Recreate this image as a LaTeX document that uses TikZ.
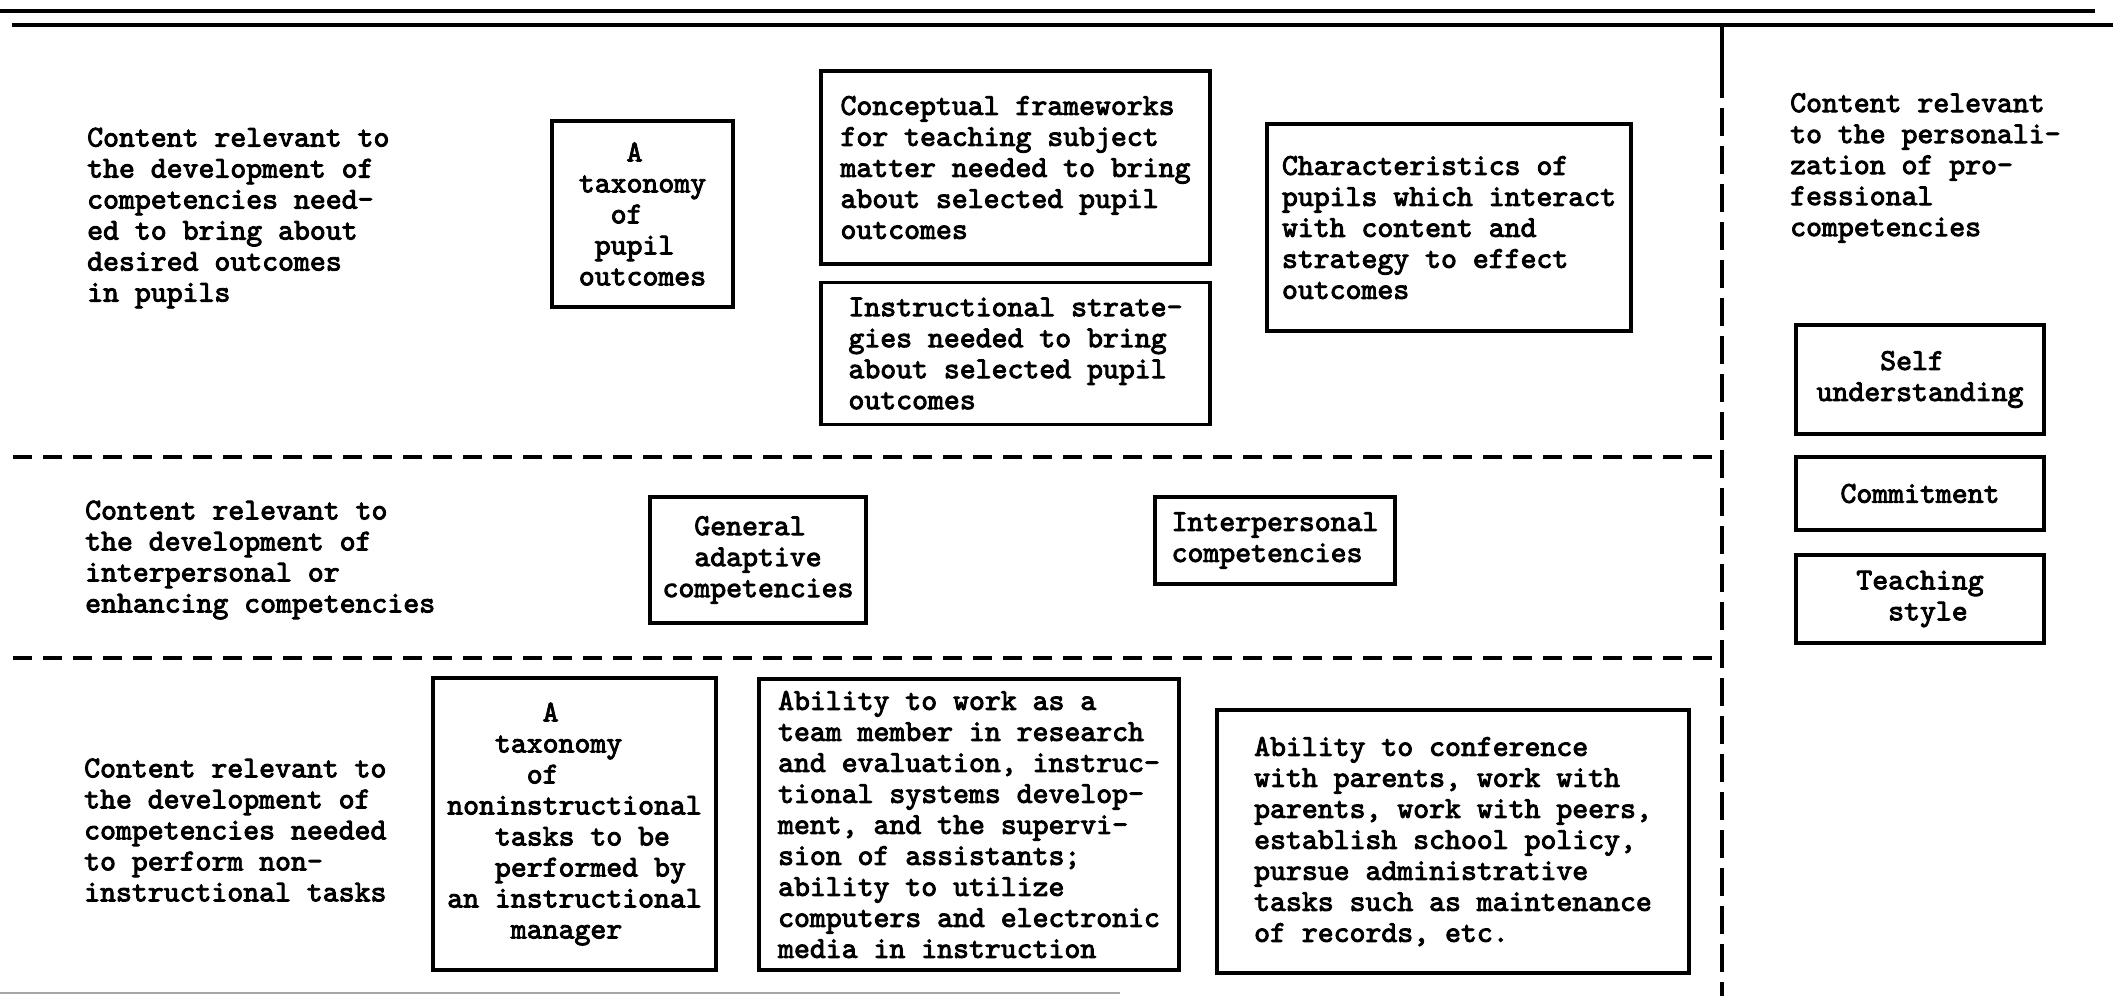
\documentclass[tikz,border=0pt]{standalone}
\usepackage{fontspec}
\newfontfamily\typewriterbold{lmmono10-regular.otf}[FakeBold=3]
\begin{document}
\begin{tikzpicture}[x=1pt,y=-1pt,
  every node/.style={font=\fontsize{30.3}{31}\selectfont\typewriterbold},
  box/.style={draw, line width=3.5pt, align=left, inner sep=0pt},
  lbl/.style={anchor=west, align=left, inner sep=0pt},
  rulebar/.style={line width=4pt},
  divider/.style={line width=3.5pt, dash pattern=on 19pt off 11pt},
  vdivider/.style={line width=3.5pt, dash pattern=on 28pt off 10pt},
  scanline/.style={line width=2pt, black!35}]
\useasboundingbox[fill=white] (0,0) rectangle (2113,996);

% rules and dividers
\coordinate (r1a) at (0,11);   \coordinate (r1b) at (2095,11);
\coordinate (r2a) at (12,25);  \coordinate (r2b) at (2113,25);
\coordinate (va) at (1722,25); \coordinate (vm) at (1722,70); \coordinate (vb) at (1722,996);
\coordinate (h1a) at (13,457); \coordinate (h1b) at (1722,457);
\coordinate (h2a) at (13,658); \coordinate (h2b) at (1722,658);
\coordinate (sa) at (0,993);   \coordinate (sb) at (1120,993);
\draw[rulebar] (r1a) -- (r1b);
\draw[rulebar] (r2a) -- (r2b);
\draw[line width=3.5pt] (va) -- (vm);
\draw[vdivider] (vm) -- (vb);
\draw[divider] (h1a) -- (h1b);
\draw[divider] (h2a) -- (h2b);
\draw[scanline] (sa) -- (sb);

% row labels
\node[lbl] (row1) at (87,218) {Content relevant to\\the development of\\competencies need-\\ed to bring about\\desired outcomes\\in pupils};
\node[lbl] (row2) at (85,560) {Content relevant to\\the development of\\interpersonal or\\enhancing competencies};
\node[lbl] (row3) at (84,830) {Content relevant to\\the development of\\competencies needed\\to perform non-\\instructional tasks};
\node[lbl] (row4) at (1790,168) {Content relevant\\to the personali-\\zation of pro-\\fessional\\competencies};

% top row boxes
\node[box, minimum width=181pt, minimum height=186pt] (tax1) at (642.5,214) {~~~A\\taxonomy\\~~of\\~pupil\\outcomes};
\node[box, minimum width=389pt, minimum height=193pt] (concept) at (1015.5,167.5) {Conceptual frameworks\\for teaching subject\\matter needed to bring\\about selected pupil\\outcomes};
\node[box, minimum width=389pt, minimum height=142pt] (instr) at (1015.5,353.5) {Instructional strate-\\gies needed to bring\\about selected pupil\\outcomes};
\node[box, minimum width=364pt, minimum height=207pt] (charac) at (1449,227.5) {Characteristics of\\pupils which interact\\with content and\\strategy to effect\\outcomes};

% right column boxes
\node[box, minimum width=248pt, minimum height=109pt] (self) at (1920,379.5) {~~~~Self\\understanding};
\node[box, minimum width=248pt, minimum height=73pt] (commit) at (1920,493.5) {Commitment};
\node[box, minimum width=248pt, minimum height=88pt] (teach) at (1920,599) {Teaching\\~~style};

% middle row boxes
\node[box, minimum width=216pt, minimum height=126pt] (genad) at (758,560) {~~General\\~~adaptive\\competencies};
\node[box, minimum width=240pt, minimum height=87pt] (interp) at (1275,540.5) {Interpersonal\\competencies};

% bottom row boxes
\node[box, minimum width=283pt, minimum height=292pt] (tax2) at (574.5,824) {~~~~~~A\\~~~taxonomy\\~~~~~of\\noninstructional\\~~~tasks to be\\~~~performed by\\an instructional\\~~~~manager};
\node[box, minimum width=420pt, minimum height=291pt] (ability) at (969,824.5) {Ability to work as a\\team member in research\\and evaluation, instruc-\\tional systems develop-\\ment, and the supervi-\\sion of assistants;\\ability to utilize\\computers and electronic\\media in instruction};
\node[box, minimum width=472pt, minimum height=263pt] (confer) at (1453,841.5) {Ability to conference\\with parents, work with\\parents, work with peers,\\establish school policy,\\pursue administrative\\tasks such as maintenance\\of records, etc.};
\end{tikzpicture}
\end{document}
